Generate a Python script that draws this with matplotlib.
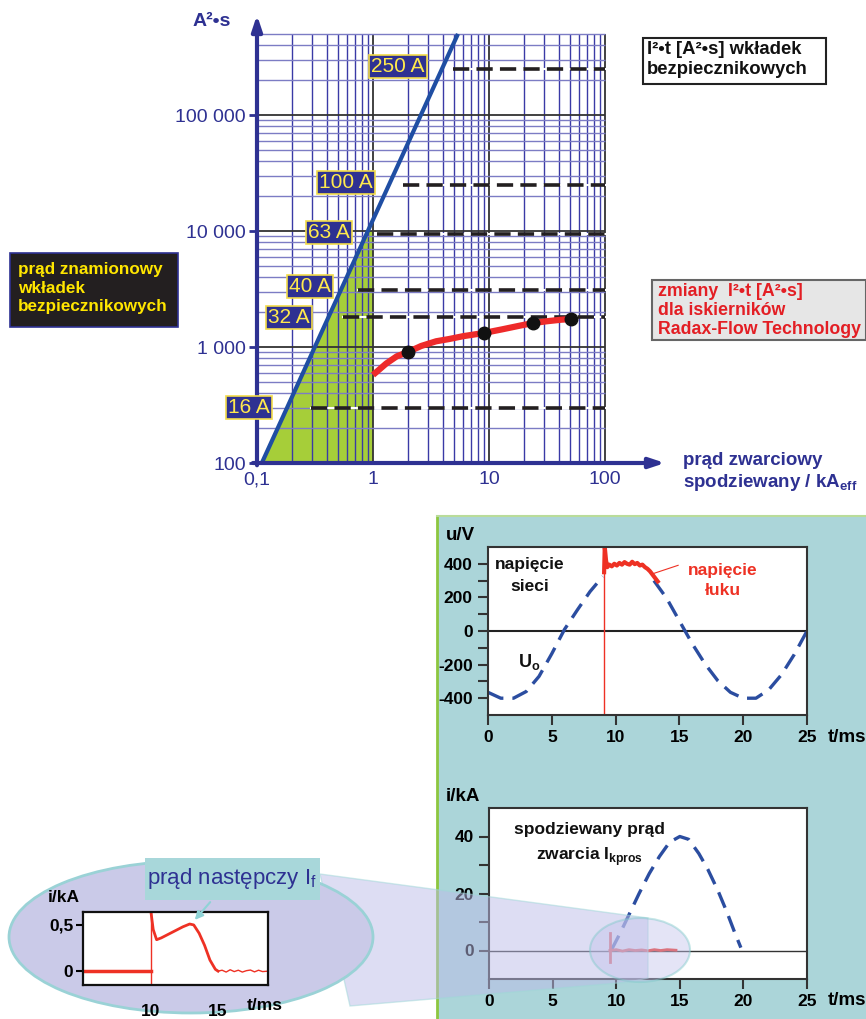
import numpy as np
import matplotlib.pyplot as plt
from matplotlib.patches import Rectangle, Ellipse, Polygon, FancyArrowPatch
from matplotlib.lines import Line2D
from matplotlib.ticker import NullLocator
from matplotlib.transforms import Affine2D

plt.rcParams['font.family'] = ['Liberation Sans', 'DejaVu Sans']
plt.rcParams['mathtext.fontset'] = 'custom'
plt.rcParams['mathtext.rm'] = 'Liberation Sans'
plt.rcParams['mathtext.bf'] = 'Liberation Sans:bold'

W, H = 866, 1019

# --- top chart: I2t vs prospective current ---
x_ticks = [0.1, 1, 10, 100]
x_ticklabels = ['0,1', '1', '10', '100']
y_ticks = [100, 1000, 10000, 100000]
y_ticklabels = ['100', '1 000', '10 000', '100 000']

fuse_line_x = [0.11, 5.4]
fuse_line_y = [100, 500000]

fuse_names = ['16 A', '32 A', '40 A', '63 A', '100 A', '250 A']
fuse_i2t = [300, 1800, 3100, 9500, 25000, 250000]
fuse_dash_from = [0.29, 0.55, 0.74, 1.08, 1.8, 4.9]

radax_x = [1.0, 1.3, 1.6, 2.0, 2.6, 3.5, 4.5, 6.0, 9.0, 13, 18, 24, 32, 42, 51, 56]
radax_y = [574, 720, 830, 905, 1020, 1120, 1170, 1240, 1320, 1420, 1520, 1610, 1670, 1720, 1740, 1750]
radax_dot_x = [2, 9, 24, 51]
radax_dot_y = [905, 1320, 1610, 1740]

# --- voltage chart ---
t_net = np.arange(0, 26)
u_net = np.array([-365, -400, -400, -360, -270, -135, 10, 125, 235, 325, 380, 400, 380,
                  300, 195, 60, -75, -195, -295, -365, -400, -400, -350, -260, -140, 0])
t_arc_start = 9.1
arc_t = [9.10, 9.15, 9.25, 9.35, 9.5, 9.7, 9.9, 10.1, 10.3, 10.5, 10.7, 10.9, 11.1,
         11.3, 11.5, 11.7, 11.9, 12.1, 12.3, 12.5, 12.7, 12.9, 13.1, 13.3]
arc_u = [350, 500, 420, 380, 395, 385, 400, 390, 405, 395, 410, 400, 395, 412, 398,
         405, 390, 395, 380, 370, 355, 335, 315, 295]

# --- current chart ---
cur_t = [9.6, 10.3, 11.0, 11.8, 12.6, 13.4, 14.2, 15.0, 15.7, 16.5, 17.2, 18.0, 18.7, 19.3, 19.8]
cur_i = [0, 6, 12.5, 20, 27, 33, 38, 40, 39, 34, 28.5, 21, 13.5, 6.5, 1]
lim_t = [9.5, 10, 10.5, 11, 11.5, 12, 12.5, 13, 13.5, 14, 14.7]
lim_i = [0, 0.3, -0.2, 0.3, 0, 0.2, -0.1, 0.3, 0, 0.3, 0.1]
lim_spike = [-4.2, 6]

# --- follow current inset ---
fol_pre_t = [5, 10]
fol_pre_i = [0, 0]
fol_t = [10.05, 10.2, 10.45, 10.8, 11.2, 11.6, 12.0, 12.4, 12.9, 13.2, 13.6, 14.0, 14.4, 14.8, 15.0,
         15.3, 15.6, 15.9, 16.2, 16.5, 16.8, 17.1, 17.4, 17.7, 18.0, 18.3, 18.7]
fol_i = [0.62, 0.45, 0.34, 0.36, 0.39, 0.42, 0.45, 0.48, 0.51, 0.50, 0.41, 0.28, 0.12, 0.02, 0.0,
         0.01, -0.01, 0.015, -0.005, 0.01, -0.01, 0.005, 0.012, -0.008, 0.01, -0.005, 0.0]

navy = '#2e3192'
red = '#ee3124'

fig = plt.figure(figsize=(W / 100, H / 100), dpi=100)
px = Affine2D().scale(1 / W, -1 / H).translate(0, 1) + fig.transFigure


def rect(x0, y0, x1, y1):
    return [x0 / W, 1 - y1 / H, (x1 - x0) / W, (y1 - y0) / H]


def bold_ticks(a, size):
    for lbl in a.get_xticklabels() + a.get_yticklabels():
        lbl.set_fontweight('bold')
        lbl.set_fontsize(size)


# ================= top chart =================
ax = fig.add_axes(rect(257, 15, 665, 463))
ax.set_xscale('log')
ax.set_yscale('log')
ax.set_xlim(0.1, 10 ** (2 + 60 / 116))
ax.set_ylim(100, 10 ** (2 + 448 / 116))
ax.set_facecolor('none')
for s in ax.spines.values():
    s.set_visible(False)

minor_x = [m * 10.0 ** e for e in (-1, 0, 1) for m in range(2, 10)]
minor_y = [m * 10.0 ** e for e in (2, 3, 4) for m in range(2, 10)] + [2e5, 3e5, 4e5, 5e5]
ax.vlines(minor_x, 100, 5e5, color='#3a3aa6', lw=1, zorder=1)
ax.vlines([1, 10, 100], 100, 5e5, color='#333333', lw=1.3, zorder=1)
ax.hlines(minor_y, 0.1, 100, color='#7c7cc4', lw=1, zorder=1)
ax.hlines([1000, 10000, 100000], 0.1, 100, color='#333333', lw=1.3, zorder=1)

# green area under the fuse line up to 1 kA
x_at_cap = 10 ** np.interp(4, np.log10(fuse_line_y), np.log10(fuse_line_x))
ax.add_patch(Polygon([(fuse_line_x[0], 100), (x_at_cap, 1e4), (1, 1e4), (1, 100)],
                     closed=True, fc='#a6ce39', ec='none', zorder=0.5))
ax.plot(fuse_line_x, fuse_line_y, color='#1f4ea3', lw=3, zorder=3, solid_capstyle='butt')

label_x = [0.085, 0.189, 0.286, 0.418, 0.585, 1.64]
label_dy = [1.0, 1.0, 1.07, 1.02, 1.05, 1.04]
for name, lvl, x0, lx, dy in zip(fuse_names, fuse_i2t, fuse_dash_from, label_x, label_dy):
    ax.plot([x0, 100], [lvl, lvl], color='white', lw=1.5, zorder=2)
    ax.plot([x0, 100], [lvl, lvl], color='#231f20', lw=2.6, dashes=(4.5, 2.0), zorder=2.1)
    ax.text(lx, lvl * dy, name, ha='center', va='center', color='#ffe94d', fontsize=15,
            bbox=dict(boxstyle='square,pad=0.1', fc=navy, ec='#f2dc4a', lw=1.2),
            zorder=6, clip_on=False)

ax.plot(radax_x, radax_y, color='#ee2a2a', lw=4.5, zorder=4, solid_capstyle='butt')
ax.plot(radax_dot_x, radax_dot_y, 'o', color='#111111', ms=9, zorder=5)

ax.set_xticks(x_ticks)
ax.set_xticklabels(x_ticklabels)
ax.set_yticks(y_ticks)
ax.set_yticklabels(y_ticklabels)
ax.xaxis.set_minor_locator(NullLocator())
ax.yaxis.set_minor_locator(NullLocator())
ax.tick_params(axis='both', labelcolor=navy, color=navy, labelsize=14)
ax.tick_params(axis='x', length=0, pad=6)
ax.tick_params(axis='y', length=6, width=2, pad=2)

arrow = dict(arrowstyle='-|>,head_length=0.9,head_width=0.3', color=navy, lw=3,
             shrinkA=0, shrinkB=0)
ax.annotate('', xy=(1, 0), xytext=(-0.01, 0), xycoords='axes fraction', arrowprops=arrow,
            annotation_clip=False)
ax.annotate('', xy=(0, 1), xytext=(0, -0.005), xycoords='axes fraction', arrowprops=arrow,
            annotation_clip=False)

fig.text(193, 22, 'A²•s', transform=px, color=navy, fontsize=14, fontweight='bold',
         ha='left', va='center')
fig.text(683, 452, 'prąd zwarciowy\nspodziewany / kA$_{\\mathbf{eff}}$', transform=px,
         color=navy, fontsize=13.5, fontweight='bold', ha='left', va='top', linespacing=1.2)

fig.add_artist(Rectangle((10, 253), 168, 74, transform=px, fc='#231f20', ec=navy, lw=1.2))
fig.text(18, 262, 'prąd znamionowy\nwkładek\nbezpiecznikowych', transform=px,
         color='#ffe600', fontsize=12.3, fontweight='bold', ha='left', va='top',
         linespacing=1.3)

fig.add_artist(Rectangle((643, 38), 183, 46, transform=px, fc='white', ec='#222222', lw=1.5))
fig.text(647, 41, 'I²•t [A²•s] wkładek\nbezpiecznikowych', transform=px, color='#111111',
         fontsize=13.3, fontweight='bold', ha='left', va='top', linespacing=1.25)

fig.add_artist(Rectangle((652, 280), 214, 60, transform=px, fc='#e6e6e6', ec='#666666', lw=1.5))
fig.text(658, 283, 'zmiany  I²•t [A²•s]\ndla iskierników\nRadax-Flow Technology', transform=px,
         color='#e31e24', fontsize=12.8, fontweight='bold', ha='left', va='top', linespacing=1.15)

# ================= bottom panel =================
fig.add_artist(Rectangle((437, 516), 429, 503, transform=px, fc='#abd5d9', ec='none', zorder=-3))
fig.add_artist(Line2D([437, 437], [516, 1019], transform=px, color='#8dc63f', lw=2, zorder=-2.9))
fig.add_artist(Line2D([437, 866], [516, 516], transform=px, color='#b9dc9a', lw=1.5, zorder=-2.9))

# voltage
axv = fig.add_axes(rect(488, 547, 807, 715))
axv.set_xlim(0, 25)
axv.set_ylim(-500, 500)
axv.set_xticks(range(0, 26, 5))
axv.set_yticks([-400, -200, 0, 200, 400])
axv.set_yticklabels(['-400', '-200', '0', '200', '400'])
axv.set_yticks([-300, -100, 100, 300], minor=True)
axv.tick_params(which='both', direction='out', length=7, width=1.5, color='#333333', pad=4)
bold_ticks(axv, 12.5)
for s in axv.spines.values():
    s.set_color('#333333')
    s.set_linewidth(1.5)
axv.axhline(0, color='#222222', lw=1.5)
before = t_net <= 9
after = t_net >= 13
axv.plot(t_net[before], u_net[before], color='#2b4da0', lw=2.4, dashes=(5, 2.7))
axv.plot(t_net[after], u_net[after], color='#2b4da0', lw=2.4, dashes=(5, 2.7))
axv.axvline(t_arc_start, color=red, lw=1)
axv.plot(arc_t, arc_u, color=red, lw=3)
axv.plot([13.0, 14.9], [343, 391], color=red, lw=0.8)
axv.text(3.3, 331, 'napięcie\nsieci', ha='center', va='center', fontsize=12.5, fontweight='bold',
         color='#111111', linespacing=1.55)
axv.text(18.4, 300, 'napięcie\nłuku', ha='center', va='center', fontsize=12.5, fontweight='bold',
         color=red, linespacing=1.4)
axv.text(2.35, -185, 'U$_{\\mathbf{o}}$', ha='left', va='center', fontsize=13, fontweight='bold',
         color='#111111')
fig.text(446, 536, 'u/V', transform=px, fontsize=13.5, fontweight='bold', ha='left', va='center')
fig.text(828, 738, 't/ms', transform=px, fontsize=13.5, fontweight='bold', ha='left', va='center')

# prospective current
axi = fig.add_axes(rect(489, 808, 807, 979))
axi.set_zorder(-2)
axi.set_xlim(0, 25)
axi.set_ylim(-10, 50)
axi.set_xticks(range(0, 26, 5))
axi.set_yticks([0, 10, 20, 30, 40])
axi.set_yticklabels(['0', '', '20', '', '40'])
axi.tick_params(direction='out', length=7, width=1.5, color='#333333', pad=4)
bold_ticks(axi, 12.5)
for s in axi.spines.values():
    s.set_color('#333333')
    s.set_linewidth(1.5)
axi.axhline(0, color='#333333', lw=1)
axi.plot(cur_t, cur_i, color='#2b4da0', lw=2.4, dashes=(5, 2.7))
axi.plot([lim_t[0], lim_t[0]], lim_spike, color=red, lw=2)
axi.plot(lim_t, lim_i, color=red, lw=2)
axi.text(7.9, 37, 'spodziewany prąd\nzwarcia I$_{\\mathbf{kpros}}$', ha='center', va='center',
         fontsize=12.5, fontweight='bold', color='#111111', linespacing=1.5)
fig.text(446, 797, 'i/kA', transform=px, fontsize=13.5, fontweight='bold', ha='left', va='center')
fig.text(828, 1001, 't/ms', transform=px, fontsize=13.5, fontweight='bold', ha='left', va='center')

# zoom cone and ellipses
fig.add_artist(Polygon([(320, 874), (648, 918), (648, 978), (630, 982), (350, 1006)],
                       closed=True, transform=px, fc='#bcbce8', alpha=0.5, ec='#9fd8d8',
                       lw=1, zorder=-1.5))
fig.add_artist(Ellipse((191, 937), 364, 152, transform=px, fc='#cacae8', ec='#9ad2d6', lw=2,
                       zorder=-1))
fig.add_artist(Ellipse((640, 950), 100, 64, transform=px, fc='#c4c4ec', alpha=0.45,
                       ec='#7fcaca', lw=1.5, zorder=1))

# follow current inset
axs = fig.add_axes(rect(83, 912, 268, 985))
axs.set_xlim(5, 18.7)
axs.set_ylim(-0.15, 0.64)
axs.set_xticks([10, 15])
axs.set_yticks([0, 0.5])
axs.set_yticklabels(['0', '0,5'])
axs.tick_params(axis='x', length=0, pad=14)
axs.tick_params(axis='y', direction='out', length=5, width=1.5, pad=2)
bold_ticks(axs, 12.5)
for s in axs.spines.values():
    s.set_color('#111111')
    s.set_linewidth(1.6)
axs.plot(fol_pre_t, fol_pre_i, color=red, lw=2.5)
axs.axvline(10, color=red, lw=1)
axs.plot(fol_t[:15], fol_i[:15], color=red, lw=2)
axs.plot(fol_t[14:], fol_i[14:], color=red, lw=1)
fig.text(48, 898, 'i/kA', transform=px, fontsize=12.5, fontweight='bold', ha='left', va='center')
fig.text(247, 1006, 't/ms', transform=px, fontsize=12.5, fontweight='bold', ha='left', va='center')

fig.add_artist(Rectangle((145, 858), 175, 42, transform=px, fc='#a8d7da', ec='none', zorder=2))
fig.text(232, 879, 'prąd następczy I$_{\\mathrm{f}}$', transform=px, color=navy, fontsize=16,
         ha='center', va='center', zorder=3)
fig.add_artist(FancyArrowPatch((212, 900), (193, 922), transform=px, arrowstyle='-|>',
                               mutation_scale=12, color='#8fd3d6', lw=1.5, zorder=3))

fig.savefig('out.png', dpi=100)
